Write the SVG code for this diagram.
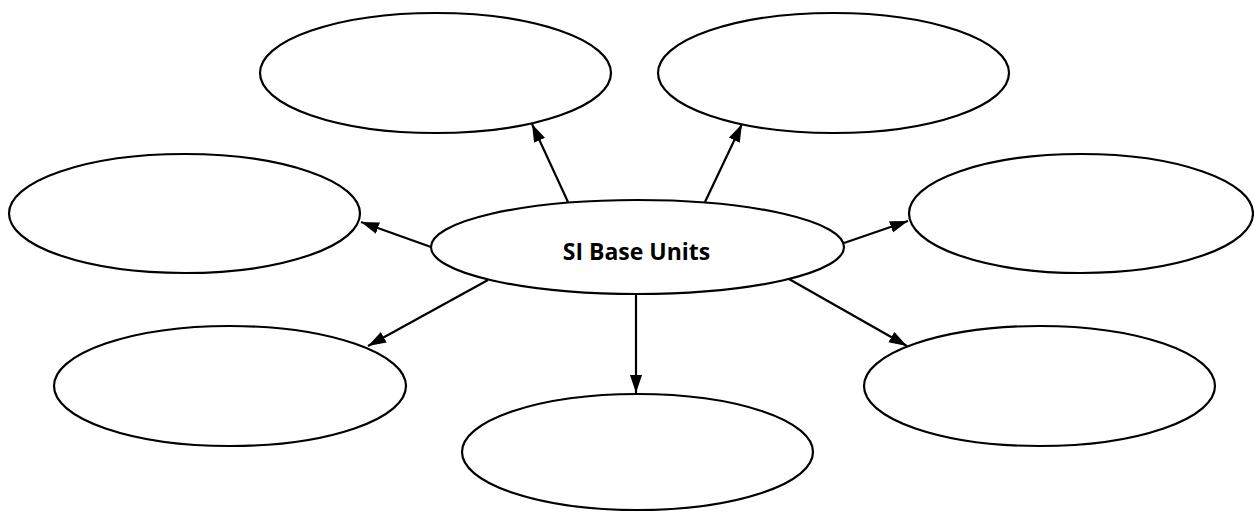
<svg xmlns="http://www.w3.org/2000/svg" width="1254" height="512" viewBox="0 0 1254 512">
<defs>
<style>
.node{fill:#fff;stroke:#000;stroke-width:2.2}
.conn{stroke:#000;stroke-width:2.2;fill:none}
.lbl{font-family:"Open Sans","Liberation Sans",sans-serif;font-weight:bold;font-size:23px;fill:#000;text-anchor:middle}
</style>
<marker id="ah" markerUnits="userSpaceOnUse" markerWidth="19" markerHeight="13" refX="18" refY="6" orient="auto">
<path d="M0,0 L18,6 L0,12 z" fill="#000"/>
</marker>
</defs>
<rect width="1254" height="512" fill="#fff"/>
<g id="connectors">
<line class="conn" x1="568" y1="202" x2="532" y2="124" marker-end="url(#ah)"/>
<line class="conn" x1="705" y1="202" x2="742" y2="124" marker-end="url(#ah)"/>
<line class="conn" x1="431" y1="247" x2="361" y2="222" marker-end="url(#ah)"/>
<line class="conn" x1="844" y1="243" x2="908" y2="221" marker-end="url(#ah)"/>
<line class="conn" x1="488" y1="280" x2="368" y2="346" marker-end="url(#ah)"/>
<line class="conn" x1="789" y1="279" x2="907" y2="346" marker-end="url(#ah)"/>
<line class="conn" x1="636" y1="294" x2="636" y2="393" marker-end="url(#ah)"/>
</g>
<g id="node-top-left"><ellipse class="node" cx="435.5" cy="73" rx="175.5" ry="60"/></g>
<g id="node-top-right"><ellipse class="node" cx="833.5" cy="73" rx="175.5" ry="60"/></g>
<g id="node-left"><ellipse class="node" cx="184.5" cy="213.5" rx="175.5" ry="59.5"/></g>
<g id="node-right"><ellipse class="node" cx="1081" cy="213.5" rx="172" ry="59.5"/></g>
<g id="node-bottom-left"><ellipse class="node" cx="230" cy="386" rx="176" ry="60"/></g>
<g id="node-bottom-right"><ellipse class="node" cx="1039.5" cy="386" rx="175.5" ry="60"/></g>
<g id="node-bottom"><ellipse class="node" cx="637.5" cy="452" rx="175.5" ry="58"/></g>
<g id="node-center">
<ellipse class="node" cx="637.5" cy="247" rx="206.5" ry="47"/>
<text class="lbl" x="636.5" y="260">SI Base Units</text>
</g>
</svg>
